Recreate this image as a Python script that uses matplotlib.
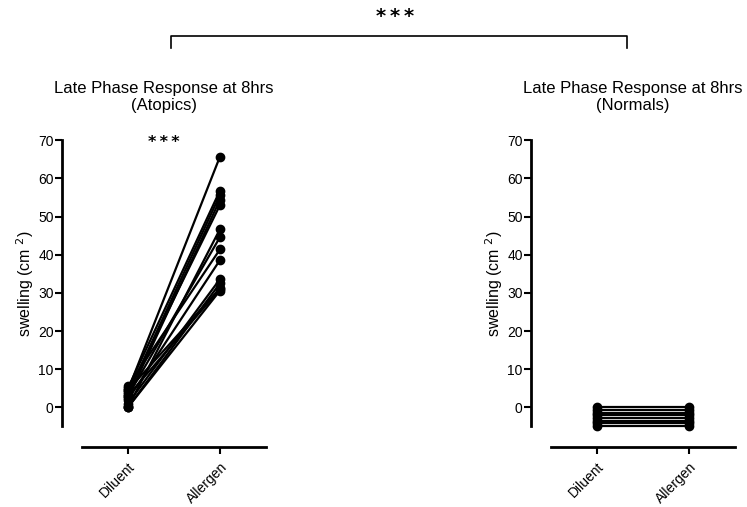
import matplotlib
matplotlib.use("Agg")
from matplotlib import pyplot as plt
from matplotlib.lines import Line2D

plt.rcParams['font.family'] = ['Liberation Sans', 'DejaVu Sans']

groups = ["Diluent", "Allergen"]

# atopics: one line per subject
atopic_diluent = [4.5, 5.0, 3.5, 2.5, 4.0, 0.0, 3.0, 5.5, 2.0, 1.0, 0.0, 4.5, 3.0, 0.0]
atopic_allergen = [65.7, 56.8, 55.7, 54.4, 53.0, 46.7, 44.6, 41.4, 38.6, 33.6, 32.5, 31.2, 31.0, 30.6]

# normals: flat lines just below zero
normal_diluent = [0.0, -0.7, -1.4, -2.1, -2.8, -3.5, -4.2, -5.0]
normal_allergen = [0.0, -0.7, -1.4, -2.1, -2.8, -3.5, -4.2, -5.0]

yticks = [0, 10, 20, 30, 40, 50, 60, 70]
stars = "*\u2009*\u2009*"

fig = plt.figure(figsize=(7.47, 5.07), dpi=100)
ax_l = fig.add_axes([0.083, 0.1183, 0.273, 0.605])
ax_r = fig.add_axes([0.7108, 0.1183, 0.273, 0.605])


def draw_panel(ax, dil, all_, title):
    for d, a in zip(dil, all_):
        ax.plot([0, 1], [d, a], color="black", lw=1.6, marker="o", ms=6,
                clip_on=False)
    ax.set_xlim(-0.717, 1.5)
    ax.set_ylim(-10.4, 70)
    ax.set_xticks([0, 1])
    ax.set_xticklabels(groups, rotation=45, ha="right", rotation_mode="anchor",
                       fontsize=10)
    ax.set_yticks(yticks)
    ax.tick_params(axis="y", labelsize=10, length=5, width=1.5, pad=1)
    ax.tick_params(axis="x", length=5, width=1.5, pad=4)
    for s in ["top", "right"]:
        ax.spines[s].set_visible(False)
    ax.spines["left"].set_linewidth(2)
    ax.spines["bottom"].set_linewidth(2)
    ax.spines["left"].set_bounds(-5, 70)
    ax.spines["bottom"].set_bounds(-0.5, 1.5)
    ax.set_ylabel("swelling (cm $^{2}$)", fontsize=11.5, labelpad=1.5, y=0.534)
    ax.set_title(title, fontsize=12, pad=22, linespacing=1.15)


draw_panel(ax_l, atopic_diluent, atopic_allergen,
           "Late Phase Response at 8hrs\n(Atopics)")
draw_panel(ax_r, normal_diluent, normal_allergen,
           "Late Phase Response at 8hrs\n(Normals)")

ax_l.text(0.385, 69.5, stars, ha="center", va="center", fontsize=11.5,
          family="DejaVu Sans", weight="bold")

# bracket between the two groups
W, H = 747, 507
x0, x1, ytop, ybot = 171 / W, 627 / W, 1 - 36 / H, 1 - 48 / H
fig.add_artist(Line2D([x0, x0, x1, x1], [ybot, ytop, ytop, ybot],
                      color="black", lw=1.2))
fig.text(395 / W, 1 - 17 / H, stars, ha="center", va="center", fontsize=14,
         family="DejaVu Sans", weight="bold")

fig.savefig("out.png", dpi=100)
